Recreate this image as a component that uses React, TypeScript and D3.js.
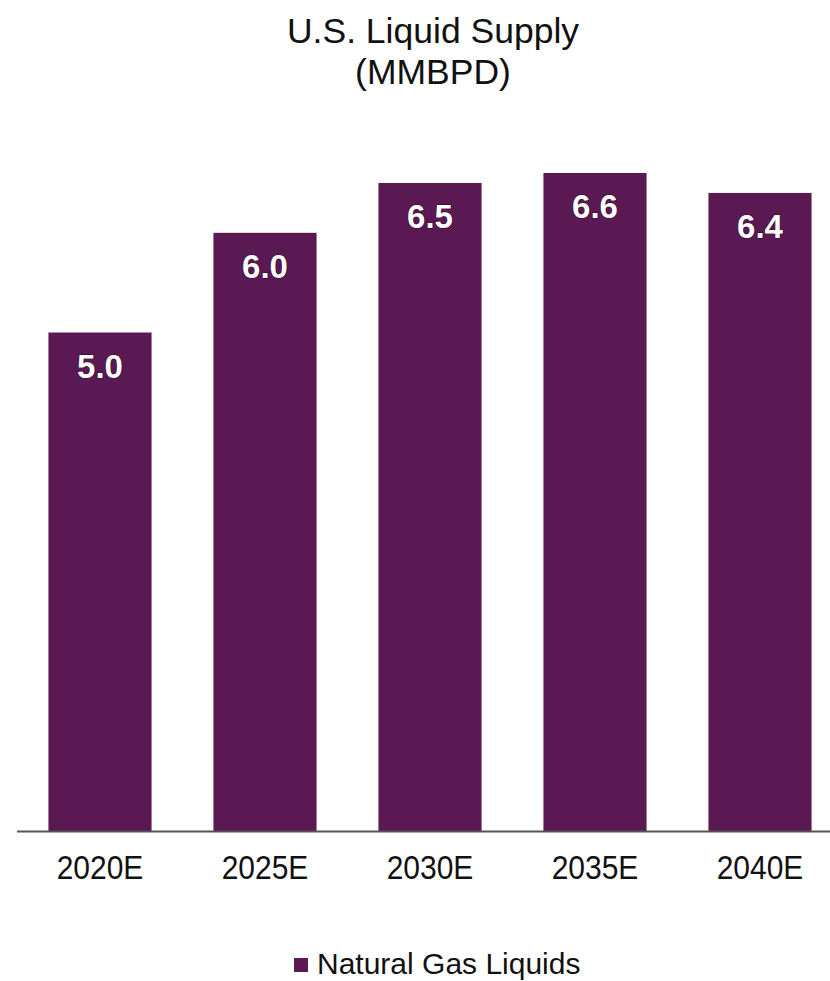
import React from "react";
import * as d3 from "d3";

const categories = ["2020E", "2025E", "2030E", "2035E", "2040E"];
const values = [5.0, 6.0, 6.5, 6.6, 6.4];
const seriesName = "Natural Gas Liquids";

const W = 830;
const H = 981;
const BASE = 831;
const COLOR = "#5a1953";

export default function App() {
  const x = d3.scaleBand<string>().domain(categories).range([17.5, 842.5]).paddingInner(0.375).paddingOuter(0.1875);
  const y = d3.scaleLinear().domain([0, 6.6]).range([BASE, BASE - 658]);
  const font = "'Liberation Sans', Arial, sans-serif";
  return (
    <svg width={W} height={H} style={{ position: "absolute", left: 0, top: 0, background: "#fff" }} fontFamily={font}>
      <text x={433} y={43} textAnchor="middle" fontSize={35.5} fill="#111">U.S. Liquid Supply</text>
      <text x={433} y={84} textAnchor="middle" fontSize={35.5} fill="#111">(MMBPD)</text>
      {categories.map((c, i) => {
        const cx = (x(c) as number) + x.bandwidth() / 2;
        return (
          <g key={c}>
            <rect x={x(c)} y={y(values[i])} width={x.bandwidth()} height={BASE - y(values[i])} fill={COLOR} />
            <text x={cx} y={y(values[i]) + 45} textAnchor="middle" fontSize={33} fontWeight="bold" fill="#fff" stroke="#2a0a26" strokeWidth={1.2} paintOrder="stroke">{values[i].toFixed(1)}</text>
            <text transform={`translate(${cx},879) scale(1,1.12)`} textAnchor="middle" fontSize={30} fill="#111">{c}</text>
          </g>
        );
      })}
      <line x1={17} x2={830} y1={BASE + 0.5} y2={BASE + 0.5} stroke="#555" strokeWidth={2} />
      <rect x={294} y={958} width={14} height={14} fill={COLOR} />
      <text x={317} y={974} fontSize={30} fill="#111">{seriesName}</text>
    </svg>
  );
}
